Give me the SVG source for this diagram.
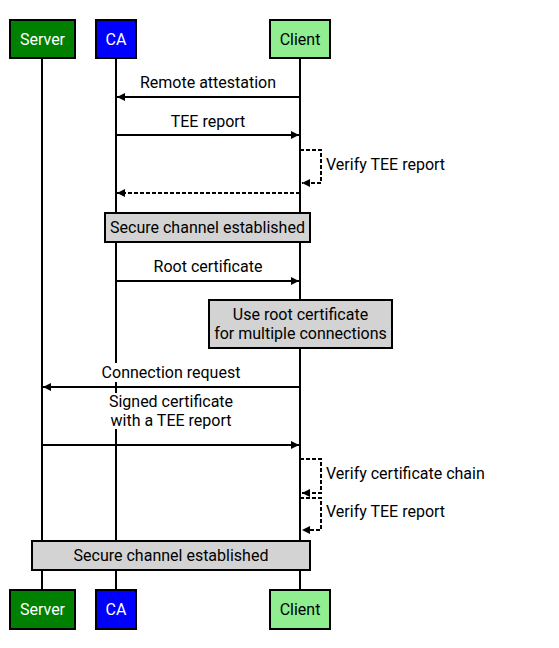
<svg xmlns="http://www.w3.org/2000/svg" width="559" height="648" viewBox="0 0 559 648">
<defs>
<marker id="ah" viewBox="0 0 10 10" refX="10" refY="5" markerWidth="10" markerHeight="8" markerUnits="userSpaceOnUse" orient="auto">
<path d="M0,0 L10,5 L0,10 z" fill="#000"/>
</marker>
</defs>
<style>
text{font-family:Roboto,"Liberation Sans",sans-serif;font-size:16px;fill:#000;text-anchor:middle;dominant-baseline:central}
.life{stroke:#000;stroke-width:2;fill:none}
.msg{stroke:#000;stroke-width:2;fill:none;marker-end:url(#ah)}
.dash{stroke-dasharray:4,2}
.actor{stroke:#000;stroke-width:2}
.note{fill:#d3d3d3;stroke:#000;stroke-width:2}
.lbl{text-anchor:start}
</style>
<rect width="559" height="648" fill="#fff"/>
<g id="lifelines">
<line class="life" x1="42" y1="58" x2="42" y2="590"/>
<line class="life" x1="116" y1="58" x2="116" y2="590"/>
<line class="life" x1="300" y1="58" x2="300" y2="590"/>
</g>
<g id="connectors">
<text x="208" y="82">Remote attestation</text>
<line class="msg" x1="300" y1="97" x2="117" y2="97"/>
<text x="208" y="121">TEE report</text>
<line class="msg" x1="116" y1="135" x2="299" y2="135"/>
<path class="msg dash" d="M300,150 H321 V183 H302"/>
<text class="lbl" x="326" y="164">Verify TEE report</text>
<line class="msg dash" x1="300" y1="193" x2="117" y2="193"/>
<text x="208" y="266">Root certificate</text>
<line class="msg" x1="116" y1="281" x2="299" y2="281"/>
<rect x="100" y="363" width="144" height="19" fill="#fff"/>
<text x="171" y="372">Connection request</text>
<line class="msg" x1="300" y1="387" x2="43" y2="387"/>
<rect x="106" y="393" width="130" height="36" fill="#fff"/>
<text x="171" y="401">Signed certificate</text>
<text x="171" y="420">with a TEE report</text>
<line class="msg" x1="42" y1="445" x2="299" y2="445"/>
<path class="msg dash" d="M300,459 H321 V493 H302"/>
<text class="lbl" x="326" y="473">Verify certificate chain</text>
<path class="msg dash" d="M300,498 H321 V530 H302"/>
<text class="lbl" x="326" y="511">Verify TEE report</text>
</g>
<g id="note1">
<rect class="note" x="105" y="213" width="205" height="29"/>
<text x="207.5" y="227.5">Secure channel established</text>
</g>
<g id="note2">
<rect class="note" x="209" y="300" width="183" height="48"/>
<text x="300.5" y="314.5">Use root certificate</text>
<text x="300.5" y="333.5">for multiple connections</text>
</g>
<g id="note3">
<rect class="note" x="32" y="541" width="278" height="29"/>
<text x="171" y="555.5">Secure channel established</text>
</g>
<g id="server-top">
<rect class="actor" x="10" y="20" width="65" height="38" fill="#008000"/>
<text x="42.5" y="39" style="fill:#fff">Server</text>
</g>
<g id="ca-top">
<rect class="actor" x="96" y="20" width="40" height="38" fill="#0000ff"/>
<text x="116" y="39" style="fill:#fff">CA</text>
</g>
<g id="client-top">
<rect class="actor" x="270" y="20" width="60" height="38" fill="#90ee90"/>
<text x="300" y="39">Client</text>
</g>
<g id="server-bottom">
<rect class="actor" x="10" y="590" width="65" height="39" fill="#008000"/>
<text x="42.5" y="609" style="fill:#fff">Server</text>
</g>
<g id="ca-bottom">
<rect class="actor" x="96" y="590" width="40" height="39" fill="#0000ff"/>
<text x="116" y="609" style="fill:#fff">CA</text>
</g>
<g id="client-bottom">
<rect class="actor" x="270" y="590" width="60" height="39" fill="#90ee90"/>
<text x="300" y="609">Client</text>
</g>
</svg>
